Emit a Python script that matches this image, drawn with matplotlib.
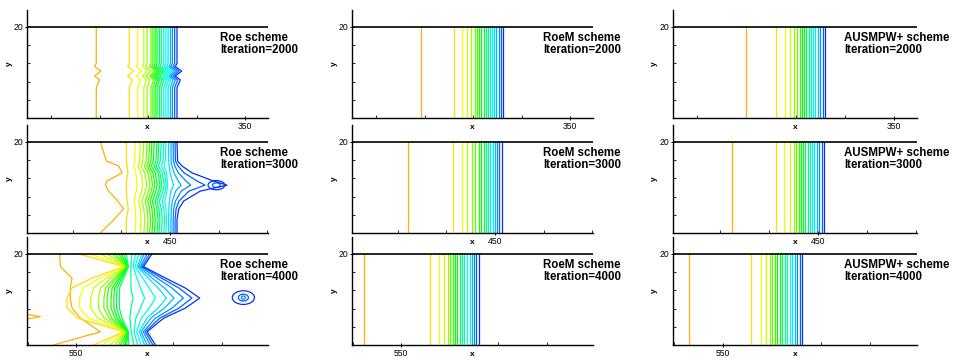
import numpy as np
import matplotlib
matplotlib.use("Agg")
import matplotlib.pyplot as plt
from matplotlib.colors import hsv_to_rgb
from matplotlib.patches import Ellipse
from matplotlib.ticker import FixedLocator, MultipleLocator

plt.rcParams['font.family'] = ['Liberation Sans', 'DejaVu Sans']

# ------------------------------
# DATA
# ------------------------------
schemes = ["Roe", "RoeM", "AUSMPW+"]
iterations = [2000, 3000, 4000]
x_windows = [(237.6, 361.8), (376.3, 500.5), (524.7, 648.9)]   # x range of each row
x_labelled = [350, 450, 550]                                   # the one labelled x tick per row
y_top = 20

# RoeM / AUSMPW+ : straight contour lines, x position of each level (orange -> blue)
roem_lines = [
    [273.2, 290.3, 294.3, 296.9, 299.1, 300.8, 302.0, 303.2, 304.3, 305.5,
     306.7, 307.7, 308.9, 309.9, 311.0, 312.0, 313.2, 314.4, 315.4],
    [405.0, 428.4, 433.0, 435.6, 438.2, 439.9, 441.9, 442.9, 444.2, 445.4,
     446.4, 447.6, 448.8, 449.9, 451.0, 452.2, 453.6],
    [530.7, 564.8, 569.4, 572.3, 574.2, 575.4, 576.6, 577.6, 578.8, 580.2,
     581.4, 582.6, 584.0, 585.4, 586.6, 587.7, 588.8, 590.0],
]
ausm_lines = [
    [274.6, 290.2, 294.4, 297.3, 299.2, 300.7, 302.1, 303.2, 304.3, 305.4,
     306.7, 307.7, 308.8, 310.0, 311.4, 312.6, 313.8, 315.1],
    [406.3, 428.7, 432.8, 436.0, 437.7, 439.0, 440.3, 441.4, 442.6, 443.6,
     444.8, 446.0, 447.0, 448.2, 449.6, 450.8, 452.0, 453.3],
    [532.8, 564.5, 569.6, 572.2, 573.9, 575.1, 576.5, 577.6, 579.0, 580.2,
     581.5, 582.7, 584.1, 585.3, 586.6, 587.8, 589.2, 590.3],
]

# Roe, iteration 2000: straight lines with a zig-zag near mid height
roe2000_base = [273.3, 290.3, 294.7, 297.8, 299.5, 301.5, 302.5, 303.6, 304.6,
                305.8, 306.8, 308.1, 309.2, 310.3, 311.5, 312.5, 313.7, 314.9]
roe2000_y = [0, 6.7, 8.35, 9.2, 10.3, 11.3, 12.0, 20]
roe2000_dx = [0, 0, 1.7, -0.9, 2.4, -0.9, 0, 0]
roe2000_scale = [1.0, 0.9, 0.8, 0.8, 0.8, 0.8, 0.8, 0.8, 0.8,
                 0.8, 0.8, 0.8, 0.8, 0.8, 0.8, 0.9, 0.9, 1.0]

# Roe, iteration 3000: four shape groups (orange, yellow, middle, blue bulge)
roe3000_base = [414.1, 427.5, 432.1, 434.7, 436.5, 438.2, 439.5, 440.7, 441.9, 443.3,
                444.3, 445.5, 446.8, 447.9, 449.3, 450.5, 451.6, 452.6, 453.6]
roe3000_y = [20, 15.8, 14.7, 13.2, 11.4, 10.5, 9.2, 7.0, 5.3, 2.9, 0]
roe3000_shapes = [
    [0, 3.1, 9.5, 11.2, 3.4, 2.6, 4.3, 9.0, 12.0, 6.9, 0],
    [0, 0, 0.4, 0.8, 0, 0, 0, 0.4, 1.0, 0, 0],
    [0, -0.5, -1.5, 0.5, 1.2, 1.5, 0.8, -1.0, 0, 0.5, 0],
    [0, 0.3, 2.6, 7.7, 18.9, 25.8, 12.0, 3.4, 0.9, 0, 0],
]
roe3000_group = [0, 1, 2, 2, 2, 2, 2, 2, 2, 2, 2, 2, 2, 2, 3, 3, 3, 3, 3]
roe3000_scale = [1, 1, 0.6, 0.8, 1, 1, 1, 1, 1, 1, 1, 1, 0.8, 0.6,
                 0.1, 0.2, 0.35, 0.6, 1.0]
roe3000_loop_x, roe3000_loop_y = 473.9, 10.5
roe3000_loop_w = [8.6, 4.0]
roe3000_loop_h = [1.0, 0.5]

# Roe, iteration 4000: lines pinch at two heights and bulge in between
roe4000_y = [20.0, 17.2, 14.7, 12.5, 10.3, 8.1, 5.9, 2.9, 0]
roe4000_center = [577.1, 577.1, 575.4, 573.7, 573.7, 573.7, 574.9, 577.1, 578.0]
roe4000_spread_left = [25.8, 2.6, 17.2, 25.8, 28.4, 28.4, 24.1, 2.6, 18.9]
roe4000_spread_right = [12.0, 7.7, 20.6, 32.6, 40.0, 32.6, 20.3, 9.5, 12.9]
roe4000_orange = [541.5, 541.9, 547.9, 547.0, 547.0, 547.9, 552.2, 562.5, 538.4]
roe4000_w_left = [1.0, 0.77, 0.57, 0.43, 0.33, 0.27, 0.2, 0.15, 0.1, 0.05]
roe4000_w_right = [0.14, 0.29, 0.43, 0.57, 0.67, 0.79, 0.9, 1.0]
roe4000_spike_x = [524.7, 531.6, 524.7]
roe4000_spike_y = [6.75, 6.2, 5.7]
roe4000_loop_x, roe4000_loop_y = 636.2, 10.4
roe4000_loop_w = [11.4, 5.2, 2.0]
roe4000_loop_h = [1.5, 0.75, 0.35]


def level_colors(n):
    hues = np.linspace(0.115, 0.635, n)
    return [hsv_to_rgb((h, 1.0, 1.0)) for h in hues]


def draw_vertical(ax, xs):
    cols = level_colors(len(xs))
    for x, c in zip(xs, cols):
        ax.plot([x, x], [0, y_top], color=c, lw=0.9)


# ------------------------------
# FIGURE
# ------------------------------
fig = plt.figure(figsize=(9.57, 3.6), dpi=100)

col_left = [27, 352, 673]
col_width = [241, 241, 244]
row_top = [10, 125, 237]
ax_h = 108
text_x = [0.80, 0.793, 0.70]

for r in range(3):
    for c in range(3):
        ax = fig.add_axes([col_left[c] / 957, 1 - (row_top[r] + ax_h) / 360,
                           col_width[c] / 957, ax_h / 360])
        ax.set_facecolor('none')
        ax.set_xlim(*x_windows[r])
        ax.set_ylim(0, 23.7)

        if c == 0 and r == 0:
            ys = roe2000_y
            for i, b in enumerate(roe2000_base):
                xs = [b + roe2000_scale[i] * d for d in roe2000_dx]
                ax.plot(xs, ys, color=level_colors(len(roe2000_base))[i], lw=0.9)
        elif c == 0 and r == 1:
            cols = level_colors(len(roe3000_base))
            for i, b in enumerate(roe3000_base):
                shape = roe3000_shapes[roe3000_group[i]]
                xs = [b + roe3000_scale[i] * d for d in shape]
                ax.plot(xs, roe3000_y, color=cols[i], lw=0.9)
            for k in range(len(roe3000_loop_w)):
                ax.add_patch(Ellipse((roe3000_loop_x, roe3000_loop_y),
                                     roe3000_loop_w[k], roe3000_loop_h[k] * 2,
                                     fill=False, ec=cols[-1 - k], lw=0.9))
        elif c == 0 and r == 2:
            n = 1 + len(roe4000_w_left) + len(roe4000_w_right)
            cols = level_colors(n)
            ax.plot(roe4000_orange, roe4000_y, color=cols[0], lw=0.9)
            ax.plot(roe4000_spike_x, roe4000_spike_y, color=cols[0], lw=0.9)
            k = 1
            for w in roe4000_w_left:
                xs = [p - w * s for p, s in zip(roe4000_center, roe4000_spread_left)]
                ax.plot(xs, roe4000_y, color=cols[k], lw=0.9)
                k += 1
            for w in roe4000_w_right:
                xs = [p + w * s for p, s in zip(roe4000_center, roe4000_spread_right)]
                ax.plot(xs, roe4000_y, color=cols[k], lw=0.9)
                k += 1
            for j in range(len(roe4000_loop_w)):
                ax.add_patch(Ellipse((roe4000_loop_x, roe4000_loop_y),
                                     roe4000_loop_w[j], roe4000_loop_h[j] * 2,
                                     fill=False, ec=cols[-1 - j], lw=0.9))
        elif c == 1:
            draw_vertical(ax, roem_lines[r])
        else:
            draw_vertical(ax, ausm_lines[r])

        ax.axhline(y_top, color='black', lw=1.2)

        for s in ['top', 'right']:
            ax.spines[s].set_visible(False)
        for s in ['left', 'bottom']:
            ax.spines[s].set_linewidth(1.0)

        ax.xaxis.set_major_locator(FixedLocator([x_labelled[r]]))
        ax.xaxis.set_minor_locator(MultipleLocator(25))
        ax.yaxis.set_major_locator(FixedLocator([y_top]))
        ax.yaxis.set_minor_locator(FixedLocator([4, 8, 12, 16]))
        ax.tick_params(which='major', labelsize=6.2, length=3, width=0.7,
                       pad=1.2, direction='inout')
        ax.tick_params(which='minor', length=2.5, width=0.6, direction='in')

        ax.set_xlabel('x', fontsize=6, fontweight='bold')
        ax.set_ylabel('y', fontsize=6, fontweight='bold')
        ax.xaxis.set_label_coords(0.5, -0.055)
        ax.yaxis.set_label_coords(-0.06, 0.5)

        ax.text(text_x[c], 0.80,
                f"{schemes[c]} scheme\nIteration={iterations[r]}",
                transform=ax.transAxes, ha='left', va='top',
                fontsize=8.3, fontweight='bold', linespacing=1.0)

fig.savefig('out.png', dpi=100)
